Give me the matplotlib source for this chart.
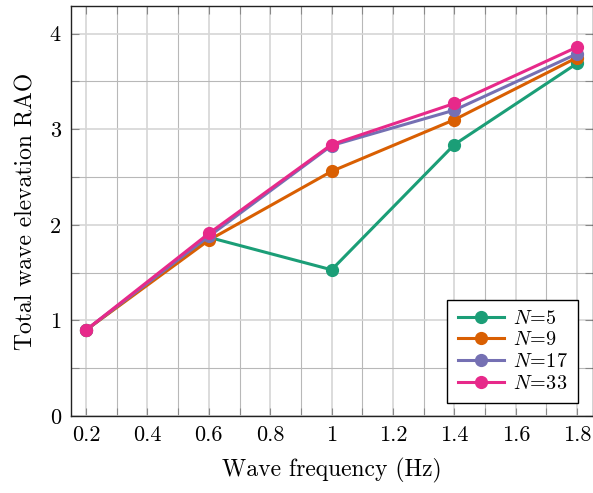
import matplotlib
matplotlib.use("Agg")
import matplotlib.pyplot as plt
from matplotlib.ticker import MultipleLocator

plt.rcParams['font.family'] = 'serif'
plt.rcParams['font.serif'] = ['cmr10', 'DejaVu Serif']
plt.rcParams['mathtext.fontset'] = 'cm'
plt.rcParams['axes.formatter.use_mathtext'] = True

freq = [0.2, 0.6, 1.0, 1.4, 1.8]
rao_n5 = [0.90, 1.87, 1.53, 2.84, 3.69]
rao_n9 = [0.90, 1.84, 2.56, 3.10, 3.75]
rao_n17 = [0.90, 1.88, 2.83, 3.20, 3.79]
rao_n33 = [0.90, 1.91, 2.84, 3.27, 3.86]
labels = [r'$N\!=\!5$', r'$N\!=\!9$', r'$N\!=\!17$', r'$N\!=\!33$']
colors = ['#1b9e77', '#d95f02', '#7570b3', '#e7298a']

fig = plt.figure(figsize=(5.93, 4.93), dpi=100)
ax = fig.add_axes([0.1192, 0.156, 0.88, 0.832])

for ys, lab, c in zip([rao_n5, rao_n9, rao_n17, rao_n33], labels, colors):
    ax.plot(freq, ys, color=c, lw=2.2, marker='o', markersize=8.5, label=lab)

ax.set_xlim(0.15, 1.85)
ax.set_ylim(0, 4.29)
ax.xaxis.set_major_locator(MultipleLocator(0.2))
ax.xaxis.set_minor_locator(MultipleLocator(0.1))
ax.yaxis.set_major_locator(MultipleLocator(1))
ax.yaxis.set_minor_locator(MultipleLocator(0.5))
ax.set_xticks([0.2, 0.4, 0.6, 0.8, 1.0, 1.2, 1.4, 1.6, 1.8])
ax.set_xticklabels(['0.2', '0.4', '0.6', '0.8', '1', '1.2', '1.4', '1.6', '1.8'])
ax.set_yticks([0, 1, 2, 3, 4])
ax.set_yticklabels(['0', '1', '2', '3', '4'])

ax.grid(True, which='major', color='#d6d6d6', lw=1.2)
ax.grid(True, which='minor', color='#b8b8b8', lw=0.8)
ax.set_axisbelow(True)
ax.tick_params(which='both', direction='in', top=True, right=True, length=6,
               width=0.8, color='#888888', labelsize=16, pad=7)

for s in ax.spines.values():
    s.set_color('#222222')
    s.set_linewidth(1.0)

ax.set_xlabel('Wave frequency (Hz)', fontsize=17, labelpad=9)
ax.set_ylabel('Total wave elevation RAO', fontsize=17, labelpad=9)

leg = ax.legend(loc='lower right', bbox_to_anchor=(0.972, 0.032), borderaxespad=0,
                fontsize=14.5, frameon=True, fancybox=False, edgecolor='black',
                framealpha=1, handlelength=2.3, borderpad=0.5, labelspacing=0.18,
                handletextpad=0.45)
leg.get_frame().set_linewidth(1.0)

fig.savefig('out.png', dpi=100)
